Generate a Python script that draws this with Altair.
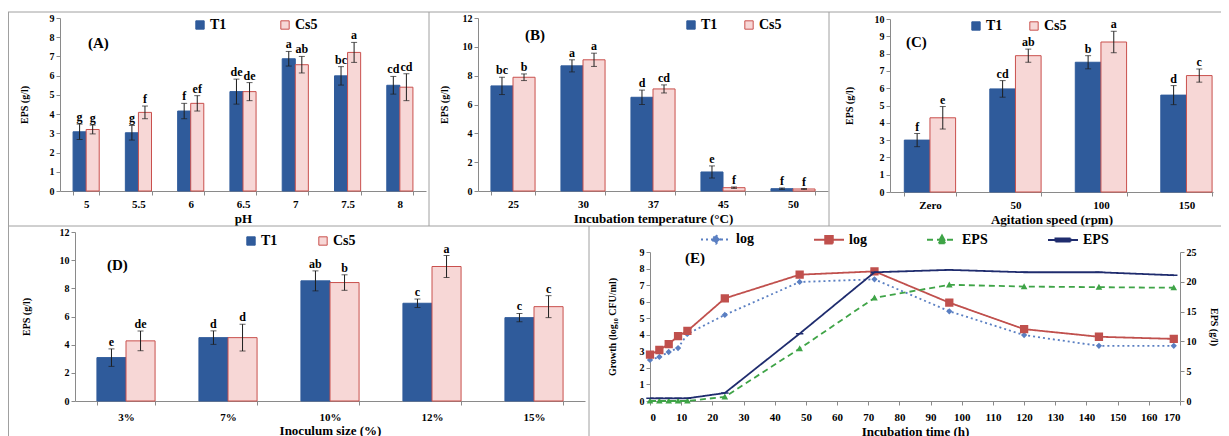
import altair as alt
import pandas as pd

FONT = "Liberation Serif"
NAVY = "#2F5B9B"
PINK = "#F7D7D6"
RED_EDGE = "#C9504D"
ERR = "#1E1E1E"
SEP = "#A0A0A0"
W, H = 1213, 428

# ---------------- data ----------------
strains = ["T1", "Cs5"]

ph_cats = ["5", "5.5", "6", "6.5", "7", "7.5", "8"]
ph_t1 = [3.08, 3.03, 4.16, 5.17, 6.88, 5.99, 5.50]
ph_t1_err = [0.40, 0.38, 0.40, 0.65, 0.38, 0.48, 0.46]
ph_cs5 = [3.20, 4.09, 4.56, 5.17, 6.57, 7.21, 5.40]
ph_cs5_err = [0.23, 0.33, 0.40, 0.47, 0.43, 0.52, 0.70]
ph_t1_let = ["g", "g", "f", "de", "a", "bc", "cd"]
ph_cs5_let = ["g", "f", "ef", "de", "ab", "a", "cd"]

temp_cats = ["25", "30", "37", "45", "50"]
temp_t1 = [7.29, 8.68, 6.50, 1.32, 0.16]
temp_t1_err = [0.60, 0.42, 0.50, 0.42, 0.05]
temp_cs5 = [7.89, 9.10, 7.08, 0.23, 0.14]
temp_cs5_err = [0.23, 0.46, 0.28, 0.05, 0.03]
temp_t1_let = ["bc", "a", "d", "e", "f"]
temp_cs5_let = ["b", "a", "cd", "f", "f"]

agit_cats = ["Zero", "50", "100", "150"]
agit_t1 = [3.00, 5.96, 7.50, 5.60]
agit_t1_err = [0.38, 0.48, 0.38, 0.55]
agit_cs5 = [4.29, 7.88, 8.67, 6.73]
agit_cs5_err = [0.65, 0.38, 0.62, 0.38]
agit_t1_let = ["f", "cd", "b", "d"]
agit_cs5_let = ["e", "ab", "a", "c"]

inoc_cats = ["3%", "7%", "10%", "12%", "15%"]
inoc_t1 = [3.08, 4.50, 8.53, 6.94, 5.92]
inoc_t1_err = [0.62, 0.48, 0.71, 0.30, 0.30]
inoc_cs5 = [4.27, 4.50, 8.41, 9.55, 6.70]
inoc_cs5_err = [0.70, 0.95, 0.55, 0.78, 0.78]
inoc_t1_let = ["e", "d", "ab", "c", "c"]
inoc_cs5_let = ["de", "d", "b", "a", "c"]

time_h = [0, 3, 6, 9, 12, 24, 48, 72, 96, 120, 144, 168]
log_a = [2.48, 2.66, 2.96, 3.20, 4.05, 5.20, 7.19, 7.35, 5.42, 3.98, 3.33, 3.33]
log_b = [2.80, 3.08, 3.44, 3.92, 4.23, 6.20, 7.63, 7.83, 5.94, 4.34, 3.88, 3.75]
eps_a = [0.0, 0.0, 0.0, 0.0, 0.0, 0.7, 8.8, 17.3, 19.5, 19.2, 19.1, 19.0]
eps_b = [0.45, 0.45, 0.45, 0.45, 0.45, 1.34, 11.3, 21.6, 22.0, 21.6, 21.6, 21.1]

series = ["log_a", "log_b", "EPS_a", "EPS_b"]
series_colors = ["#5A7FC2", "#C0504D", "#3FA447", "#1F2C6E"]
series_dash = [[2, 3], [1, 0], [6, 4], [1, 0]]
# symbol = short line + marker (the line part is only stroked in the legend)
series_symbol = [
    "M-1,0H1M0,-0.28L0.28,0L0,0.28L-0.28,0Z",
    "M-1,0H1M-0.25,-0.25H0.25V0.25H-0.25Z",
    "M-1,0H1M0,-0.28L0.28,0.22H-0.28Z",
    "M-1,0H1M-0.5,-0.1H0.5V0.1H-0.5Z",
]
series_size = [500, 1100, 560, 220]


def prule(x1, x2, y1, y2):
    return alt.Chart(pd.DataFrame({"d": [0]})).mark_rule(color=SEP, strokeWidth=1).encode(
        x=alt.value(x1), x2=alt.value(x2), y=alt.value(y1), y2=alt.value(y2))


def tag_text(tag, x, y):
    return alt.Chart(pd.DataFrame({"t": [tag]})).mark_text(
        font=FONT, fontWeight="bold", fontSize=15, align="left", baseline="middle", color="black"
    ).encode(x=alt.value(x), y=alt.value(y), text="t:N")


def bar_panel(cats, t1, t1e, cs, cse, lt1, lcs, ymax, ystep, xr, yr, xtitle, tag, tag_xy,
              pin, pout, palign, leg_xy, leg_gap, ytitle_pad, label_pad=3, title_pad=3):
    rows = []
    for i, c in enumerate(cats):
        for s, v, e, l in (("T1", t1[i], t1e[i], lt1[i]), ("Cs5", cs[i], cse[i], lcs[i])):
            rows.append({"cat": c, "strain": s, "val": v, "lo": v - e, "hi": v + e, "let": l})
    df = pd.DataFrame(rows)
    x = alt.X("cat:N", sort=cats,
              scale=alt.Scale(range=list(xr), paddingInner=pin, paddingOuter=pout, align=palign),
              axis=alt.Axis(title=xtitle, labelAngle=0, tickBand="extent", orient="bottom",
                            offset=yr[0] - H, labelPadding=label_pad, titlePadding=title_pad))
    xo = alt.XOffset("strain:N", sort=strains,
                     scale=alt.Scale(domain=strains, paddingInner=0, paddingOuter=0))
    yscale = alt.Scale(domain=[0, ymax], nice=False, range=list(yr))
    yaxis = alt.Axis(values=list(range(0, ymax + 1, ystep)), title="EPS (g/l)", orient="left",
                     offset=-xr[0], titlePadding=ytitle_pad)
    leg = alt.Legend(title=None, orient="none", legendX=leg_xy[0], legendY=leg_xy[1],
                     direction="horizontal", symbolType="square", symbolSize=70,
                     symbolStrokeWidth=1, labelFont=FONT, labelFontWeight="bold",
                     labelFontSize=14, labelColor="black", columnPadding=leg_gap,
                     labelOffset=3)
    base = alt.Chart(df)
    bars = base.mark_bar(strokeWidth=1).encode(
        x=x, xOffset=xo,
        y=alt.Y("val:Q", scale=yscale, axis=yaxis),
        color=alt.Color("strain:N", scale=alt.Scale(domain=strains, range=[NAVY, PINK]), legend=leg),
        stroke=alt.Stroke("strain:N", scale=alt.Scale(domain=strains, range=[NAVY, RED_EDGE]), legend=leg),
    )
    err = base.mark_rule(color=ERR, strokeWidth=1).encode(
        x=x, xOffset=xo, y=alt.Y("lo:Q", scale=yscale, axis=yaxis), y2="hi:Q")
    cap_hi = base.mark_tick(color=ERR, thickness=1, size=6).encode(
        x=x, xOffset=xo, y=alt.Y("hi:Q", scale=yscale, axis=yaxis))
    cap_lo = base.mark_tick(color=ERR, thickness=1, size=6).encode(
        x=x, xOffset=xo, y=alt.Y("lo:Q", scale=yscale, axis=yaxis))
    letters = base.mark_text(font=FONT, fontWeight="bold", fontSize=12, dy=-7, color="black").encode(
        x=x, xOffset=xo, y=alt.Y("hi:Q", scale=yscale, axis=yaxis), text="let:N")
    return alt.layer(bars, err, cap_hi, cap_lo, letters, tag_text(tag, *tag_xy))


A = bar_panel(ph_cats, ph_t1, ph_t1_err, ph_cs5, ph_cs5_err, ph_t1_let, ph_cs5_let,
              9, 1, (52, 418), (183, 10), "pH", "(A)", (80, 35), 0.5, 0.25, 0.5,
              (185, 10), 51, 20)
B = bar_panel(temp_cats, temp_t1, temp_t1_err, temp_cs5, temp_cs5_err, temp_t1_let, temp_cs5_let,
              12, 2, (470, 820), (183, 10), "Incubation  temperature (°C)", "(B)", (517, 27),
              0.37, 0.185, 0.5, (676, 10), 24, 13)
C = bar_panel(agit_cats, agit_t1, agit_t1_err, agit_cs5, agit_cs5_err, agit_t1_let, agit_cs5_let,
              10, 1, (882, 1205), (184, 11), "Agitation  speed (rpm)", "(C)", (898, 34),
              0.4, 0.089, 0.94, (961, 11), 24, 20)
D = bar_panel(inoc_cats, inoc_t1, inoc_t1_err, inoc_cs5, inoc_cs5_err, inoc_t1_let, inoc_cs5_let,
              12, 2, (67, 577), (393, 224), "Inoculum  size (%)", "(D)", (99, 257),
              0.43, 0.215, 0.5, (236, 226), 38, 28, label_pad=6, title_pad=2)

# ---------------- panel E ----------------
def series_frame(names, values_list):
    rows = []
    for n, vals in zip(names, values_list):
        k = series.index(n)
        for t, v in zip(time_h, vals):
            rows.append({"t": t, "v": v, "s": n, "sz": series_size[k]})
    return pd.DataFrame(rows)


df_left = series_frame(["log_a", "log_b"], [log_a, log_b])
df_right = series_frame(["EPS_a", "EPS_b"], [eps_a, eps_b])

E_X = (642, 1172)
E_Y = (393, 244)

legE = alt.Legend(title=None, orient="none", legendX=692, legendY=215, direction="horizontal",
                  symbolSize=900, symbolStrokeWidth=2, labelFont=FONT, labelFontWeight="bold",
                  labelFontSize=14, labelColor="black", columnPadding=56, labelOffset=4,
                  labelExpr="split(datum.label, '_')[0]")

cscale = alt.Scale(domain=series, range=series_colors)
dscale = alt.Scale(domain=series, range=series_dash)
sscale = alt.Scale(domain=series, range=series_symbol)
xE = alt.X("t:Q", scale=alt.Scale(domain=[0, 170], nice=False, range=list(E_X)),
           axis=alt.Axis(values=list(range(0, 171, 10)), title="Incubation  time (h)",
                         orient="bottom", offset=E_Y[0] - H, labelPadding=6, titlePadding=3))
yL = alt.Y("v:Q", scale=alt.Scale(domain=[0, 9], nice=False, range=list(E_Y)),
           axis=alt.Axis(values=list(range(0, 10)), title="Growth (log₁₀ CFU/ml)",
                         orient="left", offset=-E_X[0], titlePadding=22))
yR = alt.Y("v:Q", scale=alt.Scale(domain=[0, 25], nice=False, range=list(E_Y)),
           axis=alt.Axis(values=list(range(0, 26, 5)), title="EPS (g/l)",
                         orient="right", offset=E_X[1] - W, titlePadding=12))


def line_layer(df, y):
    return alt.Chart(df).mark_line(strokeWidth=1.8).encode(
        x=xE, y=y, color=alt.Color("s:N", scale=cscale, legend=legE),
        strokeDash=alt.StrokeDash("s:N", scale=dscale, legend=legE))


def point_layer(df, y):
    return alt.Chart(df).mark_point(filled=True, opacity=1).encode(
        x=xE, y=y, color=alt.Color("s:N", scale=cscale, legend=legE),
        shape=alt.Shape("s:N", scale=sscale, legend=legE),
        size=alt.Size("sz:Q", scale=None))


left_g = alt.layer(line_layer(df_left, yL), point_layer(df_left, yL), tag_text("(E)", 677, 250))
right_g = alt.layer(line_layer(df_right, yR), point_layer(df_right, yR))
E = alt.layer(left_g, right_g).resolve_scale(y="independent").resolve_axis(y="independent")

# panel separators (decoration)
separators = alt.layer(
    prule(0, W, 4, 4),
    prule(0, W, 218, 218),
    prule(0.5, 0.5, 4, H),
    prule(421, 421, 4, 218),
    prule(821, 821, 4, 218),
    prule(581, 581, 218, H),
)

IND = "independent"
chart = alt.layer(separators, A, B, C, D, E).resolve_scale(
    x=IND, y=IND, xOffset=IND, color=IND, stroke=IND, strokeDash=IND, shape=IND
).resolve_axis(x=IND, y=IND).resolve_legend(
    color=IND, stroke=IND, strokeDash=IND, shape=IND
).properties(
    width=W, height=H, padding=0, autosize=alt.AutoSizeParams(type="none")
).configure_axis(
    labelFont=FONT, labelFontWeight="bold", labelFontSize=11, labelColor="black",
    titleFont=FONT, titleFontWeight="bold", titleFontSize=12, titleColor="black",
    domainColor="#8A8A8A", tickColor="#8A8A8A", tickSize=4, grid=False, labelPadding=2
).configure_axisY(
    labelFontSize=10, titleFontSize=10
).configure_axisX(
    titleFontSize=13
).configure_view(stroke=None)

chart.save("out.html", embed_options={"renderer": "svg", "actions": False})
